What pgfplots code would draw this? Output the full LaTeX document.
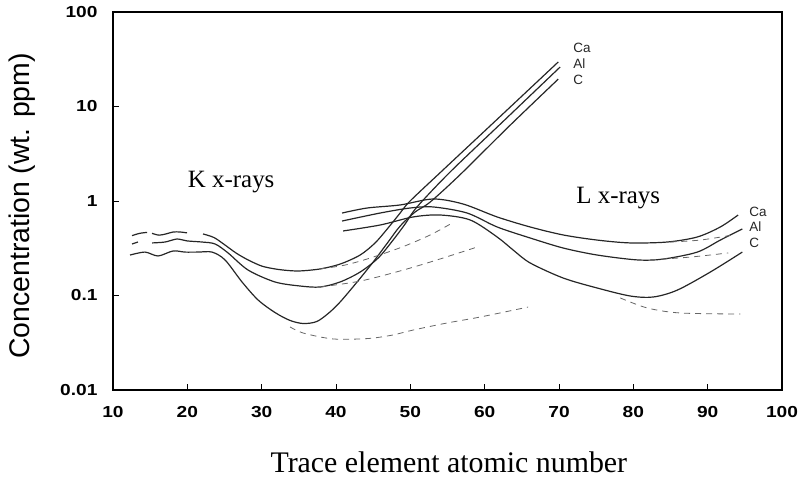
\documentclass[border=0pt]{standalone}
\usepackage{fontspec}
\setmainfont{Liberation Serif}
\newfontfamily\arialf{Liberation Sans}
\newfontfamily\arialstretch[FakeStretch=1.2]{Liberation Sans}
\usepackage{pgfplots}
\pgfplotsset{compat=1.18}
\tikzset{
  sol/.style={line width=1.2bp, color=black!85, mark=none, smooth, tension=0.5},
  das/.style={line width=0.8bp, color=black!60, mark=none, smooth, tension=0.5, dash pattern=on 6bp off 5bp},
  lab/.style={anchor=west, font=\arialf\fontsize{13.5}{13.5}\selectfont, inner sep=0pt, text=black!85}
}
\begin{document}
\begin{tikzpicture}
\begin{axis}[
  scale only axis, width=669bp, height=378bp,
  xmin=10, xmax=100, ymin=0.01, ymax=100, ymode=log,
  axis line style={line width=2bp},
  xtick={10,20,30,40,50,60,70,80,90,100},
  xticklabels={10,20,30,40,50,60,70,80,90,100},
  ytick={0.01,0.1,1,10,100}, yticklabels={0.01,0.1,1,10,100},
  yminorticks=false,
  tick align=inside, xtick pos=left, ytick pos=left,
  major tick length=6bp,
  tick style={line width=0.8bp, black},
  ticklabel style={font=\arialstretch\bfseries\fontsize{16}{16}\selectfont},
  xticklabel style={yshift=-13bp},
  yticklabel style={xshift=-12bp},
  xlabel={Trace element atomic number},
  xlabel style={font=\fontsize{30}{30}\selectfont, at={(axis description cs:0.502,-0.19)}, anchor=center},
  ylabel={Concentration (wt. ppm)},
  ylabel style={font=\arialf\fontsize{28.5}{28.5}\selectfont, at={(axis description cs:-0.136,0.487)}, anchor=center},
  clip=false,
]
\coordinate (sw) at (rel axis cs:0,0);
\coordinate (ne) at (rel axis cs:1,1);
% K curves: Ca
\addplot[sol] coordinates {(12.56,0.43)(13.6,0.455)(14.58,0.465)};
\addplot[sol] coordinates {(15.25,0.455)(16.2,0.435)(17.2,0.45)(18.1,0.47)(19.0,0.47)(19.96,0.46)};
\addplot[sol] coordinates {(22.11,0.448)(23.6,0.41)(25.07,0.342)(26.6,0.28)(28.17,0.238)(30,0.205)(31.8,0.191)(33.5,0.184)(35.2,0.182)(37.86,0.191)(40.55,0.215)(43.24,0.268)(45.26,0.36)(47.0,0.518)(48.63,0.746)(49.97,1.0)(54.4,2.13)(62,7.73)(69.9,29.6)};
% K curves: Al
\addplot[sol] coordinates {(12.56,0.351)(13.36,0.368)};
\addplot[sol] coordinates {(15.25,0.36)(17.0,0.368)(18.6,0.396)(19.96,0.378)(21.98,0.368)(23.73,0.351)(25.48,0.282)(28.17,0.186)(31.8,0.139)(35.17,0.126)(37.86,0.123)(40.55,0.139)(43.24,0.177)(45.67,0.249)(47.68,0.386)(49.3,0.571)(50.9,0.865)(55.36,2.03)(62.8,7.34)(70.16,26.2)};
% K curves: C
\addplot[sol] coordinates {(12.29,0.268)(14.31,0.288)(16.06,0.262)(18.08,0.296)(19.69,0.288)(21.44,0.288)(23.32,0.288)(25.07,0.238)(27.36,0.139)(29.52,0.0896)(31.8,0.066)(33.8,0.0545)(35.6,0.0505)(37.4,0.053)(39.0,0.065)(40.55,0.0853)(42.84,0.139)(45.0,0.226)(47.01,0.368)(48.63,0.543)(50.65,0.766)(52.67,0.975)(56.7,1.9)(63.3,6.2)(69.9,19.5)};
% K dashed continuations
\addplot[das] coordinates {(37.86,0.191)(41.22,0.21)(44.59,0.249)(48.9,0.326)(52.67,0.437)(55.63,0.585)};
\addplot[das] coordinates {(37.86,0.123)(43.24,0.142)(48.63,0.182)(53.6,0.238)(58.99,0.326)};
\addplot[das] coordinates {(33.82,0.0465)(35.57,0.0401)(39.6,0.0347)(44.19,0.035)(47.5,0.038)(50.38,0.0431)(54.95,0.0512)(59.4,0.0592)(65.85,0.0755)};
% L curves
\addplot[sol] coordinates {(40.82,0.746)(44.19,0.843)(48.63,0.908)(53.07,1.05)(57.1,0.929)(61.68,0.678)(66.12,0.531)(70.57,0.437)(75.14,0.386)(79.58,0.36)(84.56,0.368)(88.6,0.416)(91.7,0.531)(94.1,0.711)};
\addplot[sol] coordinates {(40.82,0.614)(45.94,0.746)(49.97,0.843)(53.07,0.865)(57.64,0.746)(61.68,0.531)(66.12,0.406)(70.57,0.318)(75.14,0.268)(80.52,0.238)(84.02,0.243)(88.6,0.288)(91.7,0.386)(94.66,0.506)};
\addplot[sol] coordinates {(40.96,0.482)(45.94,0.557)(50.38,0.678)(54.0,0.711)(58.05,0.63)(61.68,0.416)(63.83,0.303)(66.12,0.221)(70.57,0.153)(75.14,0.12)(79.58,0.0988)(82.68,0.0964)(85.91,0.114)(90.35,0.177)(94.66,0.288)};
% L dashed continuations
\addplot[das] coordinates {(84.97,0.368)(89.0,0.386)(93.45,0.437)};
\addplot[das] coordinates {(82.27,0.238)(87.66,0.255)(92.77,0.282)};
\addplot[das] coordinates {(78.24,0.0942)(81.87,0.0738)(86.31,0.0653)(94.39,0.0637)};
% texts
\node[font=\fontsize{25}{25}\selectfont, anchor=center] at (axis cs:25.9,1.59) {K x-rays};
\node[font=\fontsize{25}{25}\selectfont, anchor=center] at (axis cs:77.97,1.08) {L x-rays};
\node[lab] at (axis cs:71.9,41.6) {Ca};
\node[lab] at (axis cs:71.9,28.2) {Al};
\node[lab] at (axis cs:71.9,19.05) {C};
\node[lab] at (axis cs:95.6,0.765) {Ca};
\node[lab] at (axis cs:95.6,0.531) {Al};
\node[lab] at (axis cs:95.6,0.36) {C};
\end{axis}
\pgfresetboundingbox
\path[use as bounding box] ([shift={(-113bp,-88bp)}]sw) rectangle ([shift={(17bp,12bp)}]ne);
\end{tikzpicture}
\end{document}
